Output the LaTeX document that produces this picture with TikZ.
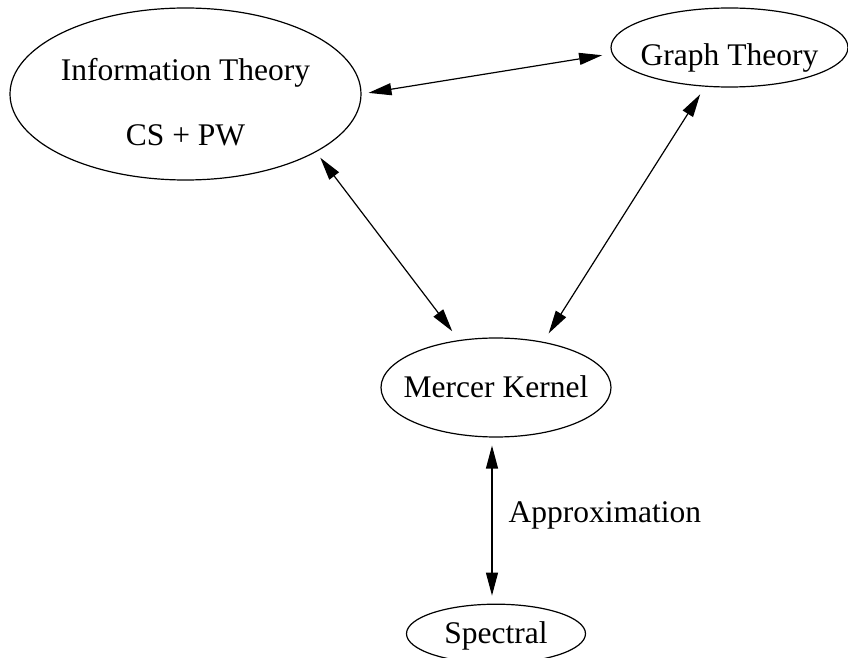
\documentclass[tikz,border=0pt]{standalone}
\usepackage{fontspec}
\setmainfont{Liberation Serif}
\usetikzlibrary{positioning,shapes.geometric,arrows.meta}
\tikzstyle{topic}=[
	ellipse,
	draw=black,
	line width=0.6pt,
	text centered,
	inner xsep=-6pt,
	inner ysep=0pt,
	text height=10pt,
	text depth=0pt]
\tikzstyle{link}=[<->,>={Triangle[length=11.5pt,width=6pt]},line width=0.6pt]
\tikzset{every node/.style={font=\fontsize{15.75}{32.5}\selectfont}}

\begin{document}
\begin{tikzpicture}[x=0.5pt,y=-0.5pt]
	\useasboundingbox (0,0) rectangle (848,658);

		\node (InfoTheory) [topic, align=center, text height=52pt, minimum width=175.5pt, minimum height=86pt] at (185.5,94) {
				Information Theory \\ CS + PW
		};

		\node (GraphTheory) [topic, text height=18pt, minimum width=118.5pt, minimum height=39.5pt] at (729.5,47.5) {Graph Theory};

		\node (Mercer) [topic, minimum width=115pt, minimum height=49.5pt] at (496,387.5) {Mercer Kernel};

		\node (Spectral) [topic, minimum width=89.5pt, minimum height=29.5pt, below=83pt of Mercer] {Spectral};

		\draw[link, shorten <=3.5pt, shorten >=4.9pt] (InfoTheory.0) -- (GraphTheory.183);
		\draw[link, shorten <=3.5pt, shorten >=5.5pt] (InfoTheory.-24) -- (Mercer.128);
		\draw[link, shorten <=4.5pt, shorten >=5pt] (GraphTheory.238) -- (Mercer.44);
		\draw[link, shorten <=4pt, shorten >=4pt] ([xshift=-2pt]Mercer.south) -- ([xshift=-2pt]Spectral.north)
			node (Approx) [pos=0.47, right=8pt, inner sep=0pt] {Approximation};

\end{tikzpicture}
\end{document}
